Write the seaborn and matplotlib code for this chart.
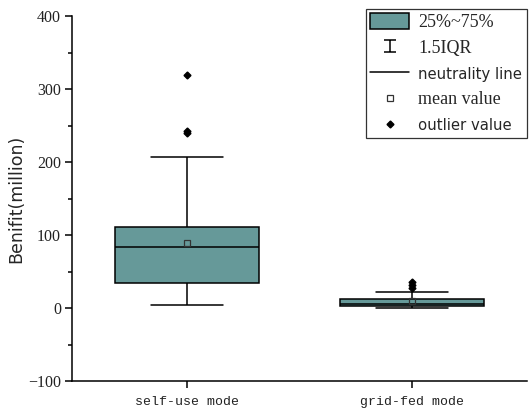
import pandas as pd
import matplotlib
matplotlib.use("Agg")
import matplotlib.pyplot as plt
import seaborn as sns
from matplotlib.lines import Line2D
from matplotlib.patches import Patch
from matplotlib.path import Path

sns.set_style("ticks")

modes = ["self-use mode", "grid-fed mode"]
self_use = [4, 6, 10, 15, 20, 26, 34, 38, 40, 43, 46, 50, 83, 85, 88, 92, 96, 100,
            111, 113, 117, 207, 240, 242, 319]
grid_fed = [0.4, 0.6, 1, 1.5, 2, 2.4, 2.7, 3, 3.5, 4, 4.5, 5.5, 6, 6.5, 7, 8, 9, 10.5,
            12, 13, 16, 22, 28, 31.5, 36]
y_ticks = [-100, 0, 100, 200, 300, 400]
legend_labels = ["25%~75%", "1.5IQR", "neutrality line", "mean value", "outlier value"]

df = pd.DataFrame({
    "mode": [modes[0]] * len(self_use) + [modes[1]] * len(grid_fed),
    "benefit": self_use + grid_fed,
})

box_color = "#669999"

fig = plt.figure(figsize=(5.31, 4.12), dpi=100)
ax = fig.add_axes([72 / 531, 1 - 381 / 412, 455 / 531, 365 / 412])

sns.boxplot(data=df, x="mode", y="benefit", ax=ax, color=box_color, saturation=1,
            width=0.64, linewidth=1.1, linecolor="black", whis=1.5,
            showmeans=True,
            meanprops=dict(marker="s", markerfacecolor="none", markeredgecolor="#333333",
                           markersize=4, markeredgewidth=0.9),
            flierprops=dict(marker="D", markerfacecolor="black", markeredgecolor="black",
                            markersize=3.5))

ax.set_xlim(-0.511, 1.511)
ax.set_ylim(-100, 400)
ax.set_yticks(y_ticks)
ax.set_yticks(range(-50, 400, 100), minor=True)
ax.set_xlabel("")
ax.set_ylabel("Benifit(million)", family="DejaVu Sans", fontsize=12.5, labelpad=2)
sns.despine(ax=ax)
for s in ["left", "bottom"]:
    ax.spines[s].set_linewidth(1.1)
    ax.spines[s].set_color("black")

ax.tick_params(axis="both", which="major", length=5, width=1.1, color="black", direction="out")
ax.tick_params(axis="y", which="minor", length=3, width=1.1, color="black", direction="out")
ax.tick_params(axis="y", pad=3)
ax.tick_params(axis="x", pad=6)
for t in ax.get_yticklabels():
    t.set_fontfamily("Liberation Serif")
    t.set_fontsize(11.5)
    t.set_color("#222222")
for t in ax.get_xticklabels():
    t.set_fontfamily("Liberation Mono")
    t.set_fontsize(9.5)
    t.set_color("#222222")

ibeam = Path([(-1, 1), (1, 1), (0, 1), (0, -1), (-1, -1), (1, -1)],
             [Path.MOVETO, Path.LINETO, Path.MOVETO, Path.LINETO, Path.MOVETO, Path.LINETO])
handles = [
    Patch(facecolor=box_color, edgecolor="black", linewidth=1.1),
    Line2D([], [], linestyle="none", marker=ibeam, markersize=9, color="black",
           markeredgewidth=1.1),
    Line2D([], [], color="black", linewidth=1.1),
    Line2D([], [], linestyle="none", marker="s", markerfacecolor="none",
           markeredgecolor="#333333", markersize=4, markeredgewidth=0.9),
    Line2D([], [], linestyle="none", marker="D", color="black", markersize=3.5),
]
leg = ax.legend(handles, legend_labels, loc="upper right", bbox_to_anchor=(1.0, 1.02),
                borderaxespad=0, fancybox=False, frameon=True, fontsize=11.5,
                handlelength=2.4, handleheight=1.15, handletextpad=0.6,
                labelspacing=0.55, borderpad=0.3)
leg.get_frame().set_edgecolor("black")
leg.get_frame().set_linewidth(0.9)
fonts = [("Liberation Serif", 13), ("Liberation Serif", 13), ("DejaVu Sans", 10.7),
         ("Liberation Serif", 13), ("DejaVu Sans", 10.7)]
for txt, (f, sz) in zip(leg.get_texts(), fonts):
    txt.set_fontfamily(f)
    txt.set_fontsize(sz)

fig.savefig("out.png", dpi=100)
